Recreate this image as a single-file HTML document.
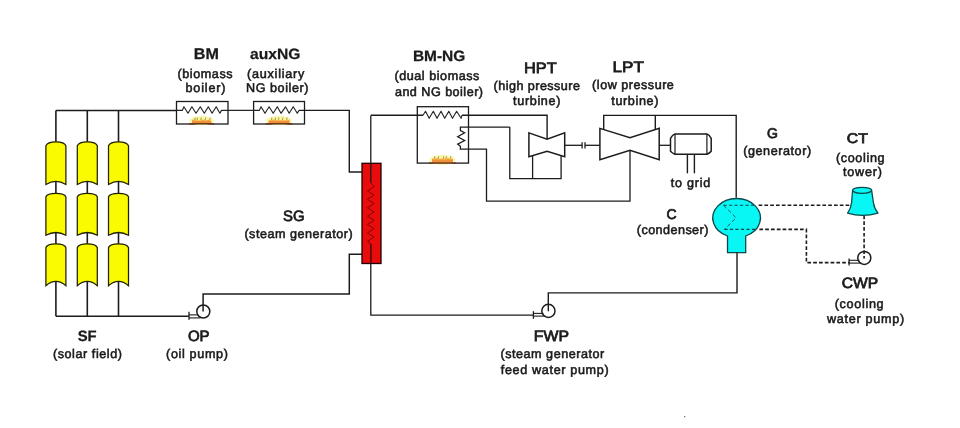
<!DOCTYPE html>
<html><head><meta charset="utf-8"><style>
html,body{margin:0;padding:0;background:#fff;}
svg{display:block;will-change:transform;}
text{font-family:"Liberation Sans", sans-serif;fill:#1a1a1a;text-rendering:geometricPrecision;}
</style></head><body>
<svg width="960" height="428" viewBox="0 0 960 428">
<rect width="960" height="428" fill="#ffffff"/>
<polyline points="55.90,110.40 55.90,316.20" fill="none" stroke="#1c1c1c" stroke-width="1.6" />
<polyline points="87.30,110.40 87.30,316.20" fill="none" stroke="#1c1c1c" stroke-width="1.6" />
<polyline points="118.50,110.40 118.50,316.20" fill="none" stroke="#1c1c1c" stroke-width="1.6" />
<polyline points="55.90,110.40 176.50,110.40" fill="none" stroke="#1c1c1c" stroke-width="1.5" />
<polyline points="55.90,316.20 189.00,316.20" fill="none" stroke="#1c1c1c" stroke-width="1.5" />
<path d="M45.90,145.70 C47.90,140.50 63.90,140.50 65.90,145.70 L65.90,184.50 Q55.90,178.30 45.90,184.50 Z" fill="#fafa00" stroke="#222200" stroke-width="1.25"/>
<path d="M45.90,196.80 C47.90,192.27 63.90,192.27 65.90,196.80 L65.90,235.20 Q55.90,229.80 45.90,235.20 Z" fill="#fafa00" stroke="#222200" stroke-width="1.25"/>
<path d="M45.90,247.60 C47.90,242.53 63.90,242.53 65.90,247.60 L65.90,285.70 Q55.90,277.10 45.90,285.70 Z" fill="#fafa00" stroke="#222200" stroke-width="1.25"/>
<path d="M77.30,145.70 C79.30,140.50 95.30,140.50 97.30,145.70 L97.30,184.50 Q87.30,178.30 77.30,184.50 Z" fill="#fafa00" stroke="#222200" stroke-width="1.25"/>
<path d="M77.30,196.80 C79.30,192.27 95.30,192.27 97.30,196.80 L97.30,235.20 Q87.30,229.80 77.30,235.20 Z" fill="#fafa00" stroke="#222200" stroke-width="1.25"/>
<path d="M77.30,247.60 C79.30,242.53 95.30,242.53 97.30,247.60 L97.30,285.70 Q87.30,277.10 77.30,285.70 Z" fill="#fafa00" stroke="#222200" stroke-width="1.25"/>
<path d="M108.50,145.70 C110.50,140.50 126.50,140.50 128.50,145.70 L128.50,184.50 Q118.50,178.30 108.50,184.50 Z" fill="#fafa00" stroke="#222200" stroke-width="1.25"/>
<path d="M108.50,196.80 C110.50,192.27 126.50,192.27 128.50,196.80 L128.50,235.20 Q118.50,229.80 108.50,235.20 Z" fill="#fafa00" stroke="#222200" stroke-width="1.25"/>
<path d="M108.50,247.60 C110.50,242.53 126.50,242.53 128.50,247.60 L128.50,285.70 Q118.50,277.10 108.50,285.70 Z" fill="#fafa00" stroke="#222200" stroke-width="1.25"/>
<circle cx="203.3" cy="311.5" r="6.5" fill="#ffffff" stroke="#1c1c1c" stroke-width="1.5"/>
<polyline points="189.00,314.90 198.43,314.90" fill="none" stroke="#1c1c1c" stroke-width="1.1" />
<polyline points="189.00,317.90 200.38,317.90" fill="none" stroke="#1c1c1c" stroke-width="1.1" />
<polyline points="189.00,311.80 189.00,319.80" fill="none" stroke="#1c1c1c" stroke-width="1.3" />
<polyline points="203.10,311.60 203.10,294.00 349.30,294.00 349.30,254.30 362.00,254.30" fill="none" stroke="#1c1c1c" stroke-width="1.5" />
<rect x="176.5" y="101.5" width="51.5" height="22.5" fill="#ffffff" stroke="#1c1c1c" stroke-width="1.3"/>
<rect x="253.6" y="101.5" width="50.900000000000006" height="22.5" fill="#ffffff" stroke="#1c1c1c" stroke-width="1.3"/>
<ellipse cx="201.60" cy="120.70" rx="12.10" ry="4.60" fill="#f7f49a" opacity="0.8"/>
<path d="M192.00,123.70 L192.00,119.76 L194.40,119.65 L196.80,119.90 L199.20,120.62 L201.60,119.70 L204.00,119.84 L206.40,120.22 L208.80,119.76 L211.20,120.36 L211.20,123.70 Z" fill="#f7a548"/>
<rect x="192" y="121.10" width="19.19999999999999" height="2.60" fill="#ee8a3a" opacity="0.8"/>
<rect x="189" y="123.00" width="25.19999999999999" height="1.5" fill="#6a3a18"/>
<path d="M194.05,120.90 Q194.25,118.20 195.25,117.30 Q195.75,119.20 195.65,120.90 Z" fill="#ffd23a" opacity="0.9"/>
<path d="M194.65,120.20 L195.25,117.50" fill="none" stroke="#5f7038" stroke-width="0.8" opacity="0.6"/>
<path d="M196.33,120.90 Q196.53,118.20 197.53,117.30 Q198.03,119.20 197.93,120.90 Z" fill="#ffd23a" opacity="0.9"/>
<path d="M196.93,120.20 L197.53,117.50" fill="none" stroke="#5f7038" stroke-width="0.8" opacity="0.6"/>
<path d="M200.14,120.90 Q200.34,118.20 201.34,117.30 Q201.84,119.20 201.74,120.90 Z" fill="#ffd23a" opacity="0.9"/>
<path d="M200.74,120.20 L201.34,117.50" fill="none" stroke="#5f7038" stroke-width="0.8" opacity="0.6"/>
<path d="M204.55,120.90 Q204.75,118.20 205.75,117.30 Q206.25,119.20 206.15,120.90 Z" fill="#ffd23a" opacity="0.9"/>
<path d="M205.15,120.20 L205.75,117.50" fill="none" stroke="#5f7038" stroke-width="0.8" opacity="0.6"/>
<path d="M209.05,120.90 Q209.25,118.20 210.25,117.30 Q210.75,119.20 210.65,120.90 Z" fill="#ffd23a" opacity="0.9"/>
<path d="M209.65,120.20 L210.25,117.50" fill="none" stroke="#5f7038" stroke-width="0.8" opacity="0.6"/>
<ellipse cx="279.10" cy="120.70" rx="12.90" ry="4.65" fill="#f7f49a" opacity="0.8"/>
<path d="M268.70,123.70 L268.70,120.23 L271.30,119.90 L273.90,119.58 L276.50,120.27 L279.10,120.36 L281.70,120.19 L284.30,120.29 L286.90,120.35 L289.50,119.51 L289.50,123.70 Z" fill="#f7a548"/>
<rect x="268.7" y="121.00" width="20.80000000000001" height="2.70" fill="#ee8a3a" opacity="0.8"/>
<rect x="265.7" y="123.00" width="26.80000000000001" height="1.5" fill="#6a3a18"/>
<path d="M270.75,120.80 Q270.95,118.10 271.95,117.20 Q272.45,119.10 272.35,120.80 Z" fill="#ffd23a" opacity="0.9"/>
<path d="M271.35,120.10 L271.95,117.40" fill="none" stroke="#5f7038" stroke-width="0.8" opacity="0.6"/>
<path d="M274.56,120.80 Q274.76,118.10 275.76,117.20 Q276.26,119.10 276.16,120.80 Z" fill="#ffd23a" opacity="0.9"/>
<path d="M275.16,120.10 L275.76,117.40" fill="none" stroke="#5f7038" stroke-width="0.8" opacity="0.6"/>
<path d="M277.75,120.80 Q277.95,118.10 278.95,117.20 Q279.45,119.10 279.35,120.80 Z" fill="#ffd23a" opacity="0.9"/>
<path d="M278.35,120.10 L278.95,117.40" fill="none" stroke="#5f7038" stroke-width="0.8" opacity="0.6"/>
<path d="M281.77,120.80 Q281.97,118.10 282.97,117.20 Q283.47,119.10 283.37,120.80 Z" fill="#ffd23a" opacity="0.9"/>
<path d="M282.37,120.10 L282.97,117.40" fill="none" stroke="#5f7038" stroke-width="0.8" opacity="0.6"/>
<path d="M285.98,120.80 Q286.18,118.10 287.18,117.20 Q287.68,119.10 287.58,120.80 Z" fill="#ffd23a" opacity="0.9"/>
<path d="M286.58,120.10 L287.18,117.40" fill="none" stroke="#5f7038" stroke-width="0.8" opacity="0.6"/>
<polyline points="176.50,110.40 182.30,110.40 183.90,106.80 188.00,113.20 191.90,106.80 196.00,113.20 200.30,106.80 204.30,113.20 208.30,106.80 212.10,113.20 216.20,106.80 219.90,113.20 221.50,110.40 253.60,110.40" fill="none" stroke="#262626" stroke-width="1.15" stroke-linejoin="round"/>
<polyline points="253.60,110.40 259.30,110.40 261.00,106.80 265.00,113.30 269.10,106.80 273.20,113.30 277.30,106.80 281.00,113.30 285.50,106.80 289.20,113.30 293.20,106.80 297.30,113.30 299.00,110.40" fill="none" stroke="#262626" stroke-width="1.15" stroke-linejoin="round"/>
<polyline points="299.00,110.40 349.30,110.40 349.30,172.00 362.00,172.00" fill="none" stroke="#1c1c1c" stroke-width="1.4" />
<rect x="362" y="163.3" width="19" height="100.2" fill="#e80c0c" stroke="#200000" stroke-width="1.3"/>
<polyline points="370.80,182.50 374.10,186.70 367.50,190.90 374.10,195.10 367.50,199.30 374.10,203.50 367.50,207.70 374.10,211.90 367.50,216.10 374.10,220.30 367.50,224.50 374.10,228.70 367.50,232.90 374.10,237.10 367.50,241.30 370.80,243.80" fill="none" stroke="#8a0000" stroke-width="1.0" />
<polyline points="370.80,115.50 370.80,182.50" fill="none" stroke="#1c1c1c" stroke-width="1.3" />
<polyline points="370.80,243.80 370.80,315.20 534.00,315.20" fill="none" stroke="#1c1c1c" stroke-width="1.3" />
<polyline points="370.80,243.80 370.80,263.50" fill="none" stroke="#6a0000" stroke-width="1.0" />
<rect x="417.3" y="106.7" width="51.19999999999999" height="56.39999999999999" fill="#ffffff" stroke="#1c1c1c" stroke-width="1.3"/>
<ellipse cx="442.50" cy="160.00" rx="13.00" ry="4.95" fill="#f7f49a" opacity="0.8"/>
<path d="M432.00,163.00 L432.00,158.68 L434.62,158.80 L437.25,157.90 L439.88,159.01 L442.50,158.38 L445.12,158.86 L447.75,158.07 L450.38,159.00 L453.00,158.75 L453.00,163.00 Z" fill="#f7a548"/>
<rect x="432" y="159.70" width="21" height="3.30" fill="#ee8a3a" opacity="0.8"/>
<rect x="429" y="162.30" width="27" height="1.5" fill="#6a3a18"/>
<path d="M433.64,159.50 Q433.84,156.80 434.84,155.90 Q435.34,157.80 435.24,159.50 Z" fill="#ffd23a" opacity="0.9"/>
<path d="M434.24,158.80 L434.84,156.10" fill="none" stroke="#5f7038" stroke-width="0.8" opacity="0.6"/>
<path d="M437.52,159.50 Q437.72,156.80 438.72,155.90 Q439.22,157.80 439.12,159.50 Z" fill="#ffd23a" opacity="0.9"/>
<path d="M438.12,158.80 L438.72,156.10" fill="none" stroke="#5f7038" stroke-width="0.8" opacity="0.6"/>
<path d="M442.53,159.50 Q442.73,156.80 443.73,155.90 Q444.23,157.80 444.13,159.50 Z" fill="#ffd23a" opacity="0.9"/>
<path d="M443.13,158.80 L443.73,156.10" fill="none" stroke="#5f7038" stroke-width="0.8" opacity="0.6"/>
<path d="M445.33,159.50 Q445.53,156.80 446.53,155.90 Q447.03,157.80 446.93,159.50 Z" fill="#ffd23a" opacity="0.9"/>
<path d="M445.93,158.80 L446.53,156.10" fill="none" stroke="#5f7038" stroke-width="0.8" opacity="0.6"/>
<path d="M449.78,159.50 Q449.98,156.80 450.98,155.90 Q451.48,157.80 451.38,159.50 Z" fill="#ffd23a" opacity="0.9"/>
<path d="M450.38,158.80 L450.98,156.10" fill="none" stroke="#5f7038" stroke-width="0.8" opacity="0.6"/>
<polyline points="370.80,115.20 423.00,115.20" fill="none" stroke="#1c1c1c" stroke-width="1.4" />
<polyline points="423.00,115.20 425.50,111.30 429.20,118.30 433.30,111.30 437.00,118.30 441.00,111.30 444.70,118.30 448.80,111.30 452.50,118.30 456.60,111.30 461.10,118.30 462.00,115.20" fill="none" stroke="#262626" stroke-width="1.15" stroke-linejoin="round"/>
<polyline points="462.00,115.20 547.10,115.20 547.10,139.00" fill="none" stroke="#1c1c1c" stroke-width="1.4" />
<polyline points="509.80,127.10 460.40,127.10 460.40,130.50 464.60,132.70 457.70,136.80 464.60,140.50 457.70,144.10 460.40,146.20 460.40,149.20 486.50,149.20 486.50,201.20 630.00,201.20 630.00,150.40" fill="none" stroke="#1c1c1c" stroke-width="1.3" />
<polyline points="509.80,127.10 509.80,178.60 561.10,178.60 561.10,155.50" fill="none" stroke="#1c1c1c" stroke-width="1.3" />
<polyline points="532.60,155.80 532.60,178.60" fill="none" stroke="#1c1c1c" stroke-width="1.3" />
<polygon points="528.90,132.90 547.10,139.20 564.70,132.90 564.70,156.80 547.10,151.40 528.90,156.80" fill="#ffffff" stroke="#1c1c1c" stroke-width="1.5" stroke-linejoin="miter"/>
<polyline points="564.70,145.30 582.10,145.30" fill="none" stroke="#1c1c1c" stroke-width="1.3" />
<polyline points="585.00,145.30 599.90,145.30" fill="none" stroke="#1c1c1c" stroke-width="1.3" />
<polyline points="582.10,142.30 582.10,148.40" fill="none" stroke="#1c1c1c" stroke-width="1.3" />
<polyline points="585.00,142.30 585.00,148.40" fill="none" stroke="#1c1c1c" stroke-width="1.3" />
<polygon points="599.90,128.40 630.00,137.80 659.20,128.40 659.20,159.80 630.00,150.40 599.90,159.80" fill="#ffffff" stroke="#1c1c1c" stroke-width="1.5"/>
<polyline points="603.70,129.60 603.70,115.40 736.20,115.40 736.20,197.80" fill="none" stroke="#1c1c1c" stroke-width="1.4" />
<polyline points="655.30,129.60 655.30,115.40" fill="none" stroke="#1c1c1c" stroke-width="1.4" />
<polyline points="659.20,145.30 670.30,145.30" fill="none" stroke="#1c1c1c" stroke-width="1.3" />
<path d="M675.0,133.9 L706.9,133.9 Q709.5,135 711.2,138.3 L711.2,151.2 Q709.5,153.2 706.9,154.2 L675.0,154.2 Q672.3,153.2 670.5,151.2 L670.5,138.3 Q672.3,135 675.0,133.9 Z" fill="#ffffff" stroke="#1c1c1c" stroke-width="1.5" stroke-linejoin="round"/>
<polyline points="675.00,134.00 675.00,154.00" fill="none" stroke="#1c1c1c" stroke-width="1.2" />
<polyline points="706.90,134.00 706.90,154.00" fill="none" stroke="#1c1c1c" stroke-width="1.2" />
<polyline points="687.40,154.30 687.40,173.30" fill="none" stroke="#1c1c1c" stroke-width="1.4" />
<polyline points="694.40,154.30 694.40,173.30" fill="none" stroke="#1c1c1c" stroke-width="1.4" />
<path d="M727.5,236 A23.85,19.5 0 1 1 745.7,236 L745.7,252.7 L727.5,252.7 Z" fill="#08f6f4" stroke="#0a4a4a" stroke-width="1.3"/>
<polyline points="723.50,205.30 736.10,217.80 724.40,229.40" fill="none" stroke="#155c5c" stroke-width="1.0" stroke-dasharray="4 2.5"/>
<polyline points="723.50,205.30 756.50,205.30" fill="none" stroke="#124848" stroke-width="1.1" stroke-dasharray="3.2 2.3"/>
<polyline points="724.40,229.40 757.50,229.40" fill="none" stroke="#124848" stroke-width="1.1" stroke-dasharray="3.2 2.3"/>
<polyline points="758.60,205.30 850.00,205.30" fill="none" stroke="#1c1c1c" stroke-width="1.6" stroke-dasharray="3.7 2.1"/>
<polyline points="759.40,229.40 806.40,229.40 806.40,262.60 849.00,262.60" fill="none" stroke="#1c1c1c" stroke-width="1.6" stroke-dasharray="3.7 2.1"/>
<circle cx="548.4" cy="310.9" r="6.6" fill="#ffffff" stroke="#1c1c1c" stroke-width="1.5"/>
<polyline points="533.40,313.40 543.45,313.40" fill="none" stroke="#1c1c1c" stroke-width="1.1" />
<polyline points="533.40,316.10 545.43,316.10" fill="none" stroke="#1c1c1c" stroke-width="1.1" />
<polyline points="533.40,311.20 533.40,318.80" fill="none" stroke="#1c1c1c" stroke-width="1.3" />
<polyline points="737.00,252.70 737.00,292.90 548.30,292.90 548.30,311.20" fill="none" stroke="#1c1c1c" stroke-width="1.4" />
<circle cx="864.3" cy="257.9" r="6.5" fill="#ffffff" stroke="#1c1c1c" stroke-width="1.5"/>
<polyline points="849.10,260.30 859.42,260.30" fill="none" stroke="#1c1c1c" stroke-width="1.1" />
<polyline points="849.10,263.10 861.38,263.10" fill="none" stroke="#1c1c1c" stroke-width="1.1" />
<polyline points="849.10,258.40 849.10,265.60" fill="none" stroke="#1c1c1c" stroke-width="1.3" />
<polyline points="864.10,215.50 864.10,258.50" fill="none" stroke="#1c1c1c" stroke-width="1.6" stroke-dasharray="3.7 2.1"/>
<path d="M852.6,190.2 L851.6,202.5 Q851,208.5 847.6,213.2 Q862.5,217.6 878.0,213.2 Q874.2,208.5 873.4,202.5 L871.6,190.2 Z" fill="#08f6f4" stroke="#0a4a4a" stroke-width="1.3" stroke-linejoin="round"/>
<ellipse cx="862.1" cy="190.3" rx="9.5" ry="3.0" fill="#08f6f4" stroke="#0a4a4a" stroke-width="1.2"/>
<rect x="684" y="416" width="1.3" height="1.3" fill="#777"/>
<text x="193.8" y="59.3" font-size="15.5" font-weight="bold" stroke="#1a1a1a" stroke-width="0.25" textLength="25.11" lengthAdjust="spacingAndGlyphs">BM</text>
<text x="177.5" y="77.5" font-size="12.6" font-weight="normal" stroke="#1a1a1a" stroke-width="0.55" textLength="55.09" lengthAdjust="spacing">(biomass</text>
<text x="185.5" y="91.8" font-size="12.6" font-weight="normal" stroke="#1a1a1a" stroke-width="0.55" textLength="40.0" lengthAdjust="spacing">boiler)</text>
<text x="250" y="59.0" font-size="15" font-weight="bold" stroke="#1a1a1a" stroke-width="0.25" textLength="50.36" lengthAdjust="spacingAndGlyphs">auxNG</text>
<text x="247" y="77.5" font-size="12.6" font-weight="normal" stroke="#1a1a1a" stroke-width="0.55" textLength="57.39" lengthAdjust="spacing">(auxiliary</text>
<text x="246" y="92.0" font-size="12.6" font-weight="normal" stroke="#1a1a1a" stroke-width="0.55" textLength="62.39" lengthAdjust="spacing">NG boiler)</text>
<text x="412.9" y="61.3" font-size="15" font-weight="bold" stroke="#1a1a1a" stroke-width="0.25" textLength="52.43" lengthAdjust="spacingAndGlyphs">BM-NG</text>
<text x="394.4" y="80.3" font-size="12.6" font-weight="normal" stroke="#1a1a1a" stroke-width="0.55" textLength="85.01" lengthAdjust="spacing">(dual biomass</text>
<text x="394.9" y="95.5" font-size="12.6" font-weight="normal" stroke="#1a1a1a" stroke-width="0.55" textLength="88.11" lengthAdjust="spacing">and NG boiler)</text>
<text x="524" y="73.0" font-size="15" font-weight="normal" stroke="#1a1a1a" stroke-width="0.75" textLength="32.6" lengthAdjust="spacingAndGlyphs">HPT</text>
<text x="493.6" y="90.0" font-size="12.6" font-weight="normal" stroke="#1a1a1a" stroke-width="0.55" textLength="86.32" lengthAdjust="spacing">(high pressure</text>
<text x="513.1" y="104.5" font-size="12.6" font-weight="normal" stroke="#1a1a1a" stroke-width="0.55" textLength="47.3" lengthAdjust="spacing">turbine)</text>
<text x="612.5" y="71.7" font-size="15" font-weight="normal" stroke="#1a1a1a" stroke-width="0.75" textLength="31.32" lengthAdjust="spacingAndGlyphs">LPT</text>
<text x="592.1" y="89.4" font-size="12.6" font-weight="normal" stroke="#1a1a1a" stroke-width="0.55" textLength="81.79" lengthAdjust="spacing">(low pressure</text>
<text x="611.3" y="104.5" font-size="12.6" font-weight="normal" stroke="#1a1a1a" stroke-width="0.55" textLength="47.1" lengthAdjust="spacing">turbine)</text>
<text x="767.1" y="138.4" font-size="14" font-weight="normal" stroke="#1a1a1a" stroke-width="0.75" >G</text>
<text x="743.2" y="154.7" font-size="12.6" font-weight="normal" stroke="#1a1a1a" stroke-width="0.55" textLength="67.91" lengthAdjust="spacing">(generator)</text>
<text x="846.8" y="143.4" font-size="14" font-weight="normal" stroke="#1a1a1a" stroke-width="0.75" textLength="21.07" lengthAdjust="spacingAndGlyphs">CT</text>
<text x="835.9" y="162.2" font-size="12.6" font-weight="normal" stroke="#1a1a1a" stroke-width="0.55" textLength="48.71" lengthAdjust="spacing">(cooling</text>
<text x="843" y="176.4" font-size="12.6" font-weight="normal" stroke="#1a1a1a" stroke-width="0.55" textLength="39.0" lengthAdjust="spacing">tower)</text>
<text x="670.8" y="186.9" font-size="12.6" font-weight="normal" stroke="#1a1a1a" stroke-width="0.55" textLength="39.42" lengthAdjust="spacing">to grid</text>
<text x="666.4" y="218.5" font-size="14" font-weight="normal" stroke="#1a1a1a" stroke-width="0.75" >C</text>
<text x="636.8" y="233.5" font-size="12.6" font-weight="normal" stroke="#1a1a1a" stroke-width="0.55" textLength="71.6" lengthAdjust="spacing">(condenser)</text>
<text x="283.1" y="220.6" font-size="15" font-weight="normal" stroke="#1a1a1a" stroke-width="0.75" textLength="21.49" lengthAdjust="spacingAndGlyphs">SG</text>
<text x="244.4" y="238.1" font-size="12.6" font-weight="normal" stroke="#1a1a1a" stroke-width="0.55" textLength="108.29" lengthAdjust="spacing">(steam generator)</text>
<text x="77.7" y="340.8" font-size="15" font-weight="bold" stroke="#1a1a1a" stroke-width="0.25" textLength="18.97" lengthAdjust="spacingAndGlyphs">SF</text>
<text x="52.9" y="357.7" font-size="12.6" font-weight="normal" stroke="#1a1a1a" stroke-width="0.55" textLength="69.1" lengthAdjust="spacing">(solar field)</text>
<text x="187.9" y="340.9" font-size="15" font-weight="normal" stroke="#1a1a1a" stroke-width="0.75" textLength="21.69" lengthAdjust="spacingAndGlyphs">OP</text>
<text x="166.1" y="357.7" font-size="12.6" font-weight="normal" stroke="#1a1a1a" stroke-width="0.55" textLength="61.8" lengthAdjust="spacing">(oil pump)</text>
<text x="533.8" y="341.1" font-size="15" font-weight="normal" stroke="#1a1a1a" stroke-width="0.75" textLength="35.13" lengthAdjust="spacingAndGlyphs">FWP</text>
<text x="500.4" y="358.1" font-size="12.6" font-weight="normal" stroke="#1a1a1a" stroke-width="0.55" textLength="103.91" lengthAdjust="spacing">(steam generator</text>
<text x="500.8" y="373.8" font-size="12.6" font-weight="normal" stroke="#1a1a1a" stroke-width="0.55" textLength="107.82" lengthAdjust="spacing">feed water pump)</text>
<text x="841.7" y="288.4" font-size="15" font-weight="normal" stroke="#1a1a1a" stroke-width="0.75" textLength="36.4" lengthAdjust="spacingAndGlyphs">CWP</text>
<text x="834.7" y="308.1" font-size="12.6" font-weight="normal" stroke="#1a1a1a" stroke-width="0.55" textLength="48.91" lengthAdjust="spacing">(cooling</text>
<text x="827" y="323.0" font-size="12.6" font-weight="normal" stroke="#1a1a1a" stroke-width="0.55" textLength="77.2" lengthAdjust="spacing">water pump)</text>
</svg>
</body></html>
